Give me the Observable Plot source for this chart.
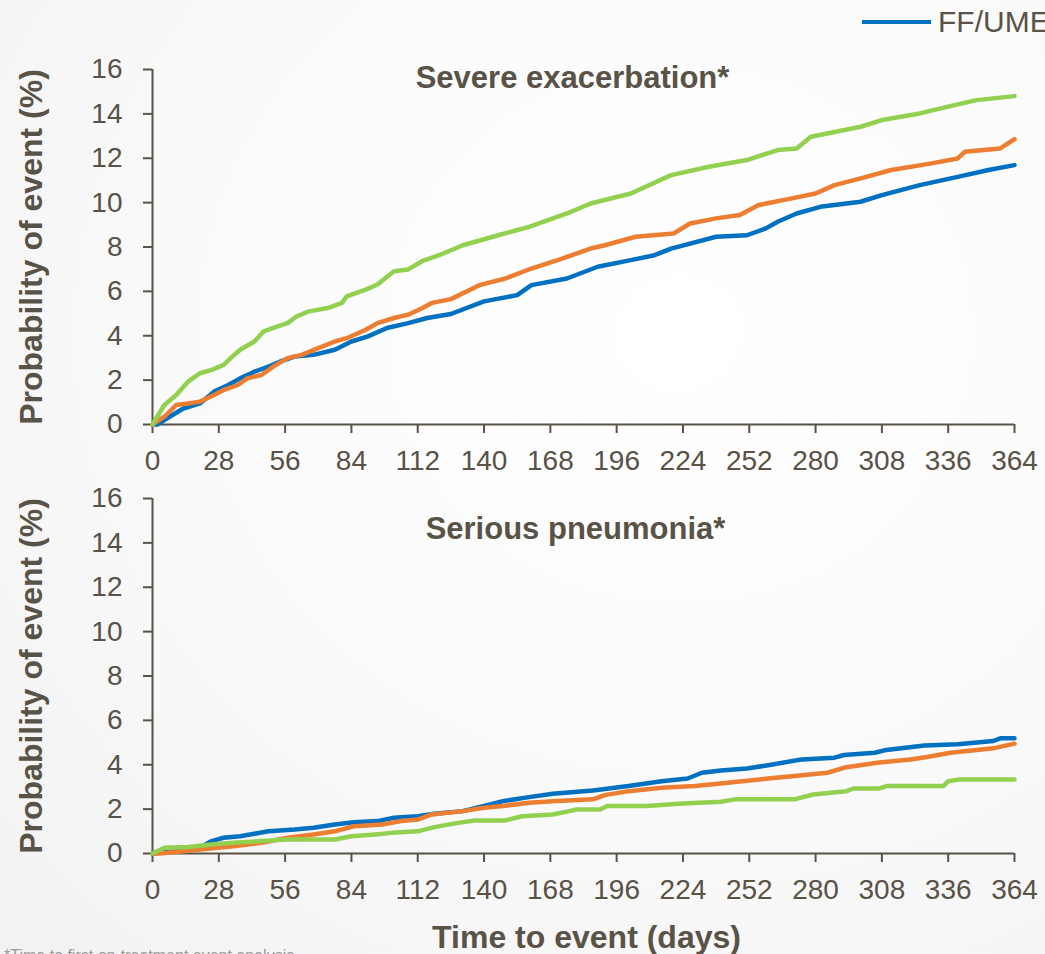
<!DOCTYPE html>
<html>
<head>
<meta charset="utf-8">
<script src="https://cdn.jsdelivr.net/npm/d3@7"></script>
<script src="https://cdn.jsdelivr.net/npm/@observablehq/plot@0.6"></script>
<style>
  html, body { margin: 0; padding: 0; }
  body {
    width: 1045px; height: 954px; overflow: hidden; position: relative;
    background: radial-gradient(ellipse at 65% 35%, #ffffff 0%, #fbfbfb 45%, #f2f2f2 100%);
    font-family: "Liberation Sans", Arial, sans-serif; color: #595247;
  }
  .panel { position: absolute; left: 0; }
  #legend { position: absolute; left: 862px; top: 5px; white-space: nowrap; font-size: 30px; color: #595247; }
  #legend .sw { display: inline-block; width: 69px; height: 4px; background: #0070C0; vertical-align: middle; margin-right: 7px; position: relative; top: -2px; }
  #foot { position: absolute; left: 4px; top: 947px; font-size: 16px; color: #9a9a9a; white-space: nowrap; }
</style>
</head>
<body>
<div id="legend"><span class="sw"></span>FF/UMEC/VI</div>
<div id="top" class="panel" style="top:0px"></div>
<div id="bottom" class="panel" style="top:480px"></div>
<div id="foot">*Time to first on-treatment event analysis</div>
<script>
// ---- categories / ticks ----
const seriesNames = ["FF/UMEC/VI", "FF/VI", "UMEC/VI"];
const seriesColors = ["#0070C0", "#ED7D31", "#92D050"];
const xTicks = [0, 28, 56, 84, 112, 140, 168, 196, 224, 252, 280, 308, 336, 364];
const yTicks = [0, 2, 4, 6, 8, 10, 12, 14, 16];

// ---- Severe exacerbation ----
const sevDaysA = [0,2,6,13,20,26,32,37,43,49,54,60,68,77,84,91,99,108,116,126,140,154,160,175,188,202,212,219,238,251,259,264,272,282,299,308,324,340,353,364];
const sevValsA = [0,0,0.27,0.72,0.95,1.48,1.78,2.08,2.38,2.61,2.84,3.06,3.14,3.37,3.74,3.97,4.35,4.57,4.8,4.98,5.55,5.83,6.28,6.58,7.11,7.41,7.63,7.93,8.46,8.53,8.84,9.14,9.51,9.81,10.04,10.34,10.79,11.16,11.47,11.69];
const sevDaysB = [0,5,10,15,20,26,30,36,40,46,51,57,63,70,77,82,90,95,102,108,114,118,126,138,149,160,173,185,191,204,220,227,238,248,256,270,280,288,299,312,329,340,343,358,364];
const sevValsB = [0,0.35,0.88,0.95,1.03,1.33,1.55,1.78,2.08,2.23,2.61,2.99,3.14,3.44,3.74,3.89,4.27,4.57,4.8,4.95,5.25,5.48,5.65,6.28,6.58,7.03,7.48,7.93,8.08,8.46,8.61,9.06,9.29,9.44,9.89,10.19,10.41,10.79,11.09,11.47,11.77,11.99,12.29,12.44,12.86];
const sevDaysC = [0,5,10,15,20,25,30,33,37,43,47,51,57,61,66,74,80,82,90,95,102,108,114,121,131,146,159,175,185,202,219,235,251,264,272,278,299,308,324,340,348,364];
const sevValsC = [0,0.88,1.33,1.93,2.31,2.46,2.69,2.99,3.37,3.74,4.2,4.35,4.57,4.88,5.1,5.25,5.48,5.78,6.08,6.31,6.91,6.99,7.37,7.63,8.08,8.53,8.91,9.51,9.96,10.41,11.24,11.62,11.92,12.37,12.44,12.97,13.42,13.72,14.02,14.43,14.62,14.8];

// ---- Serious pneumonia ----
const pneDaysA = [0,10,20,25,30,37,43,49,60,68,77,85,95,102,112,119,131,140,148,159,169,186,201,215,226,232,240,251,260,274,288,292,305,309,326,340,355,358,364];
const pneValsA = [0,0.1,0.26,0.56,0.71,0.78,0.89,1.0,1.08,1.16,1.31,1.41,1.46,1.61,1.68,1.79,1.91,2.14,2.36,2.54,2.69,2.84,3.04,3.26,3.38,3.64,3.74,3.83,3.98,4.24,4.32,4.44,4.54,4.65,4.87,4.92,5.07,5.19,5.19];
const pneDaysB = [0,3,13,20,34,46,57,68,77,85,97,105,112,118,131,140,148,159,169,186,191,201,215,229,243,260,271,285,293,306,320,327,337,355,364];
const pneValsB = [0,0,0.1,0.18,0.33,0.48,0.71,0.86,1.0,1.23,1.31,1.46,1.53,1.76,1.91,2.06,2.14,2.29,2.36,2.44,2.63,2.81,2.96,3.04,3.19,3.38,3.49,3.64,3.89,4.09,4.24,4.35,4.54,4.74,4.95];
const pneDaysC = [0,5,15,25,34,46,57,77,84,94,101,112,119,129,136,149,156,169,176,179,189,192,209,222,240,246,271,279,293,296,307,310,334,336,341,364];
const pneValsC = [0,0.26,0.29,0.41,0.48,0.56,0.63,0.63,0.78,0.86,0.93,1.0,1.19,1.38,1.49,1.49,1.68,1.76,1.91,1.98,1.98,2.14,2.14,2.24,2.33,2.44,2.44,2.66,2.81,2.93,2.93,3.04,3.04,3.26,3.34,3.34];

const titles = ["Severe exacerbation*", "Serious pneumonia*"];
const yLabel = "Probability of event (%)";
const xLabel = "Time to event (days)";

function rows(pairs) {
  const out = [];
  pairs.forEach(([days, vals], s) => days.forEach((d, i) => out.push({day: d, value: vals[i], series: seriesNames[s]})));
  return out;
}
const sevData = rows([[sevDaysA, sevValsA], [sevDaysB, sevValsB], [sevDaysC, sevValsC]]);
const pneData = rows([[pneDaysA, pneValsA], [pneDaysB, pneValsB], [pneDaysC, pneValsC]]);

const ink = "#595247";
function panel(data, title, opts) {
  const marks = [
    Plot.axisX({ticks: xTicks, tickSize: 9, tickPadding: 17, strokeWidth: 2, stroke: ink, label: null, fontSize: 28}),
    Plot.axisY({ticks: yTicks, tickSize: 9, tickPadding: 21, strokeWidth: 2, stroke: ink, label: null, fontSize: 28}),
    Plot.ruleY([0], {stroke: ink, strokeWidth: 2}),
    Plot.ruleX([0], {stroke: ink, strokeWidth: 2}),
    Plot.line(data, {x: "day", y: "value", z: "series", stroke: "series", strokeWidth: 4.5, strokeLinejoin: "round", strokeLinecap: "round"}),
    Plot.text([title], {frameAnchor: "top", lineAnchor: "middle", dx: opts.titleDx, dy: opts.titleDy, fontWeight: "bold", fontSize: 31, fill: ink}),
    Plot.text([yLabel], {frameAnchor: "left", rotate: -90, textAnchor: "middle", lineAnchor: "middle", dx: -121, fontWeight: "bold", fontSize: 32, fill: ink})
  ];
  if (opts.xTitle) marks.push(Plot.text([xLabel], {frameAnchor: "bottom", lineAnchor: "middle", dx: 3, dy: opts.xTitleDy, fontWeight: "bold", fontSize: 32, fill: ink}));
  return Plot.plot({
    width: 1045,
    height: opts.height,
    marginLeft: 152, marginRight: 31,
    marginTop: opts.marginTop, marginBottom: opts.marginBottom,
    style: {background: "transparent", fontFamily: "'Liberation Sans', Arial, sans-serif", fontSize: "28px", color: ink, overflow: "visible"},
    x: {domain: [0, 364]},
    y: {domain: [0, 16]},
    color: {domain: seriesNames, range: seriesColors},
    marks
  });
}

document.getElementById("top").append(panel(sevData, titles[0], {height: 480, marginTop: 69, marginBottom: 56, titleDx: -11, titleDy: 9}));
document.getElementById("bottom").append(panel(pneData, titles[1], {height: 474, marginTop: 18, marginBottom: 101, titleDx: -8, titleDy: 31, xTitle: true, xTitleDy: 84}));
</script>
</body>
</html>
